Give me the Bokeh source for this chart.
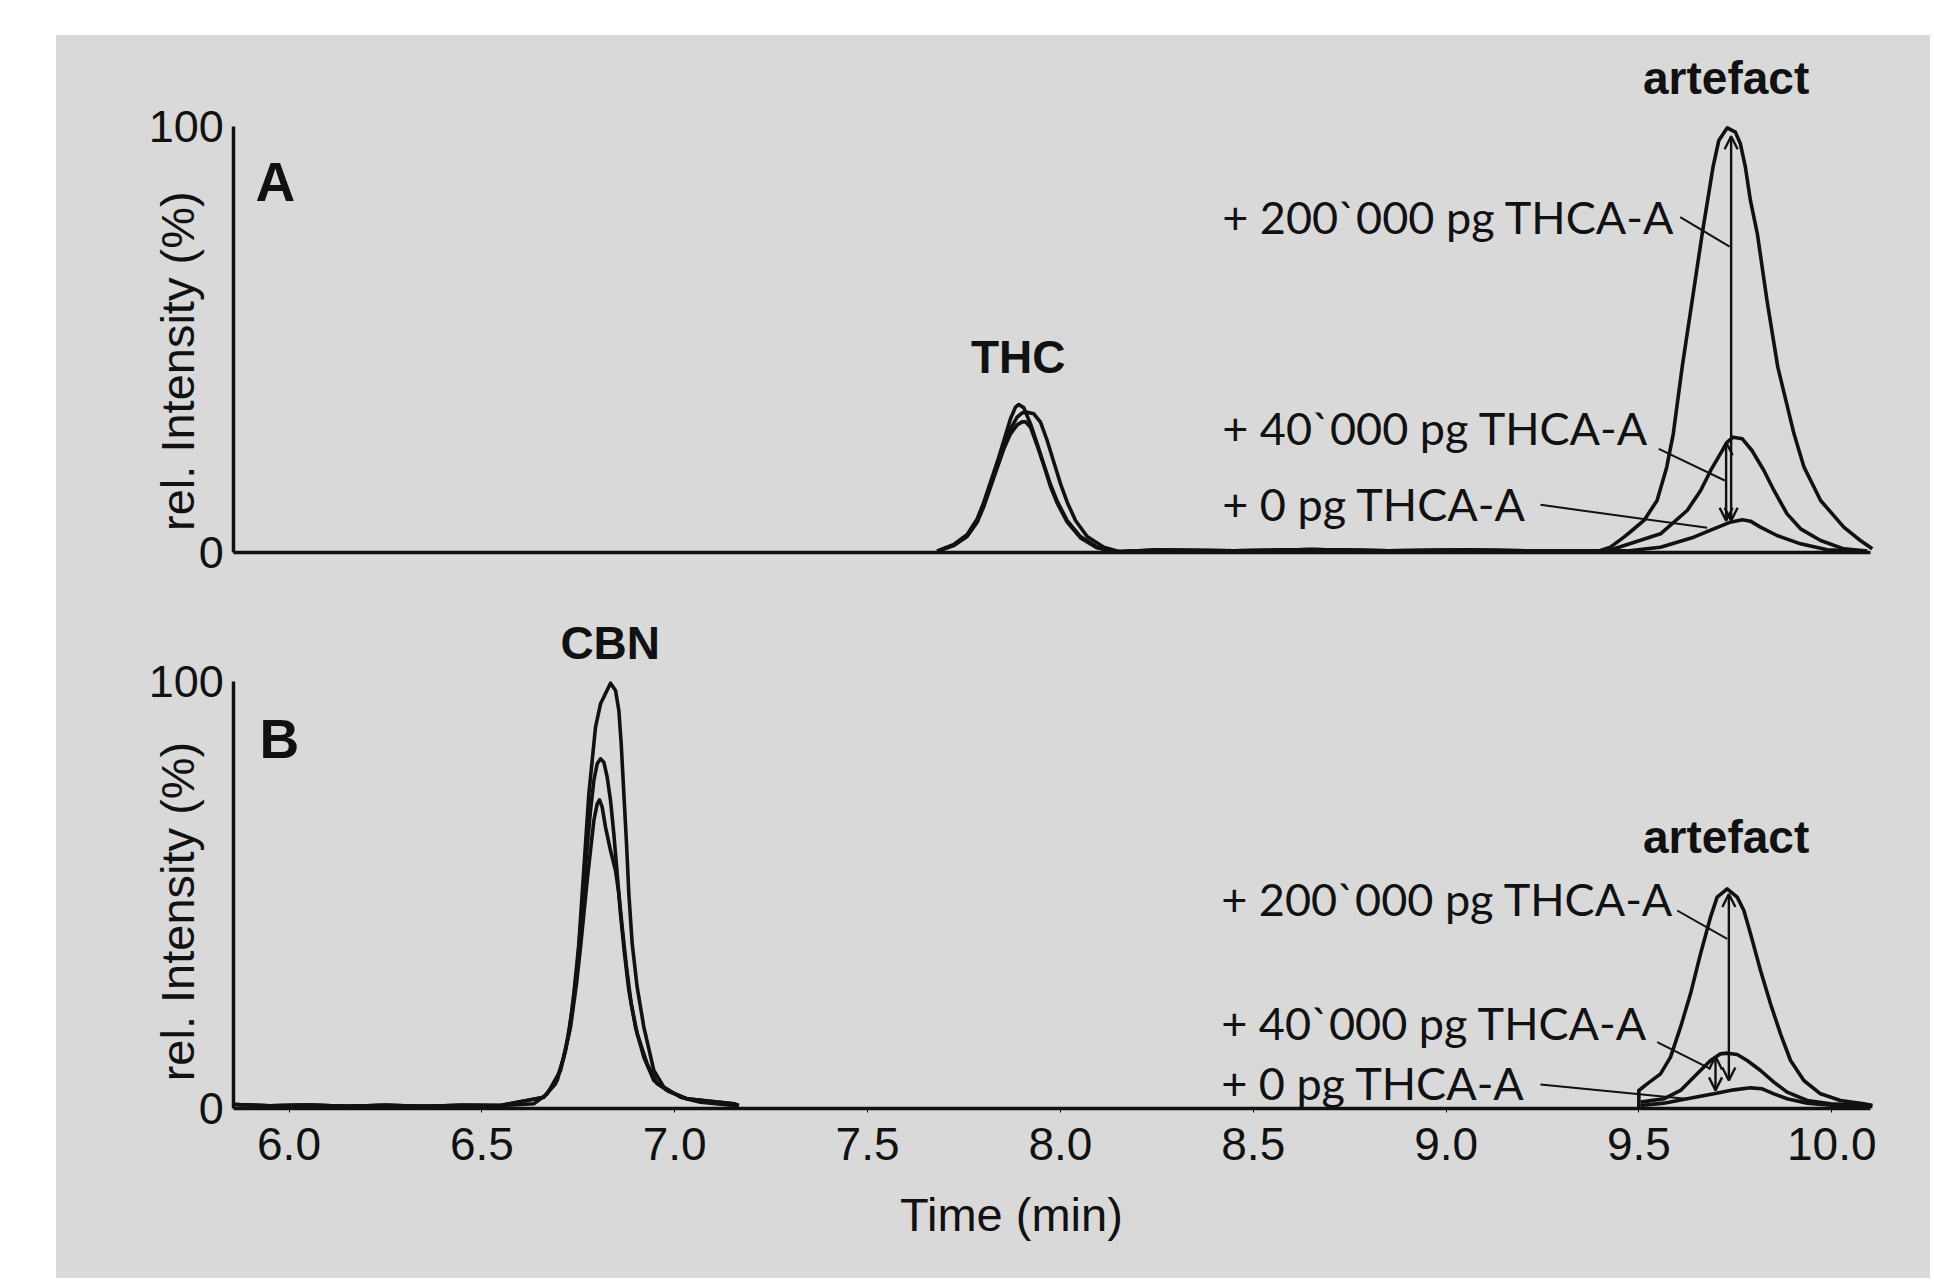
from bokeh.plotting import figure
from bokeh.models import Label, Arrow, OpenHead, FixedTicker, Spacer, Range1d
from bokeh.layouts import column, row
from bokeh.embed import file_html
from bokeh.resources import INLINE

# ---------------- data (retention time in min, relative intensity in %) ----------------
# Panel A - THC window, three injections
thcA_x_0 = [7.6805, 7.7237, 7.7583, 7.7842, 7.8015, 7.8188, 7.8361, 7.8534, 7.8706, 7.8836, 7.8922,
            7.9052, 7.9225, 7.9398, 7.9571, 7.9743, 7.9916, 8.0176, 8.0521, 8.0953, 8.1386]
thcA_y_0 = [0.24, 1.81, 4.15, 7.83, 11.75, 16.45, 21.15, 26.24, 31.33, 34.07, 34.69,
            33.91, 30.15, 25.45, 20.6, 15.9, 11.98, 7.44, 3.68, 1.18, 0.08]
thcA_x_40 = [7.6805, 7.7237, 7.7583, 7.7842, 7.8015, 7.8188, 7.8361, 7.8534, 7.8706, 7.8879, 7.9009,
             7.9139, 7.9311, 7.9484, 7.9657, 7.9830, 8.0003, 8.0176, 8.0392, 8.0694, 8.1126, 8.1558]
thcA_y_40 = [0.24, 1.65, 3.84, 7.44, 11.2, 15.67, 20.36, 25.06, 28.98, 31.72, 32.73,
             32.89, 32.5, 30.54, 26.24, 21.15, 16.06, 11.75, 7.44, 3.68, 1.18, 0.08]
thcA_x_200 = [7.6805, 7.7237, 7.7583, 7.7842, 7.8015, 7.8188, 7.8361, 7.8534, 7.8706, 7.8879, 7.9009,
              7.9095, 7.9225, 7.9398, 7.9571, 7.9743, 7.9916, 8.0176, 8.0521, 8.0953, 8.1386]
thcA_y_200 = [0.24, 1.57, 3.68, 7.05, 10.73, 15.27, 19.8, 24.28, 27.8, 29.92, 30.62,
              30.62, 29.37, 25.06, 20.36, 15.43, 11.51, 7.05, 3.37, 1.02, 0.08]
# Panel A - baseline between peaks
baseA_x = [8.25, 8.45, 8.65, 8.85, 9.05, 9.25]
baseA_y = [0.5, 0.3, 0.6, 0.3, 0.5, 0.3]
# Panel A - artefact window
artA_x_200 = [9.400, 9.426, 9.461, 9.482, 9.513, 9.547, 9.572, 9.589, 9.612, 9.638, 9.664, 9.692, 9.707,
              9.729, 9.750, 9.763, 9.776, 9.789, 9.807, 9.832, 9.860, 9.902, 9.928, 9.971, 10.031,
              10.074, 10.105]
artA_y_200 = [0.40, 1.18, 3.53, 5.1, 7.45, 12.15, 19.98, 27.8, 43.47, 59.13, 74.79, 90.45, 96.71,
              99.69, 98.67, 95.93, 90.45, 82.62, 74.79, 59.13, 43.47, 27.8, 19.98, 12.15, 5.88,
              2.75, 0.79]
artA_x_40 = [9.418, 9.556, 9.625, 9.660, 9.686, 9.711, 9.729, 9.744, 9.768, 9.793, 9.824, 9.850,
             9.884, 9.919, 9.971, 10.031, 10.092]
artA_y_40 = [0.3, 4.32, 9.8, 14.5, 19.2, 23.1, 25.85, 27.02, 26.63, 23.89, 19.2, 14.5,
             9.0, 5.49, 2.75, 0.79, 0.3]
artA_x_0 = [9.469, 9.556, 9.642, 9.694, 9.737, 9.768, 9.789, 9.815, 9.858, 9.919, 9.988, 10.074]
artA_y_0 = [0.3, 1.18, 3.53, 5.49, 7.06, 7.6, 7.29, 5.88, 3.92, 1.96, 0.55, 0.2]

# Panel B - CBN window (baseline + peak)
baseB_x = [5.86, 5.95, 6.05, 6.15, 6.25, 6.35, 6.45]
baseB_y = [1.0, 0.7, 0.9, 0.6, 0.8, 0.6, 0.8]
cbnB_x_1 = [6.5484, 6.6348, 6.6694, 6.7040, 6.7256, 6.7385, 6.7515, 6.7601, 6.7688, 6.7774, 6.7861,
            6.7947, 6.8077, 6.8336, 6.8466, 6.8552, 6.8613, 6.8682, 6.8751, 6.8811, 6.8898, 6.9027,
            6.9200, 6.9459, 6.9719, 7.0151, 7.0669, 7.1534, 7.1663]
cbnB_y_1 = [0.78, 1.17, 3.5, 8.97, 17.55, 26.93, 38.64, 50.35, 62.06, 73.76, 81.57,
            89.38, 94.84, 99.68, 97.96, 93.28, 85.47, 73.76, 62.06, 50.35, 38.64, 28.49,
            19.12, 8.97, 5.07, 2.72, 1.56, 0.78, 0.78]
cbnB_x_2 = [6.5484, 6.6607, 6.6953, 6.7169, 6.7342, 6.7472, 6.7558, 6.7645, 6.7731, 6.7817, 6.7904,
            6.7990, 6.8077, 6.8163, 6.8250, 6.8336, 6.8422, 6.8509, 6.8595, 6.8699, 6.8811, 6.8984,
            6.9200, 6.9459, 6.9805, 7.0324, 7.1534, 7.1663]
cbnB_y_2 = [0.78, 2.72, 6.63, 13.66, 23.02, 33.17, 42.54, 51.91, 61.27, 69.86, 76.89,
            80.79, 81.96, 81.18, 77.67, 72.2, 64.4, 55.03, 45.66, 36.29, 27.71, 19.12,
            12.09, 6.63, 4.29, 2.33, 1.17, 0.78]
cbnB_x_3 = [6.5484, 6.6607, 6.6910, 6.7126, 6.7299, 6.7454, 6.7558, 6.7645, 6.7731, 6.7817, 6.7904,
            6.7990, 6.8051, 6.8120, 6.8206, 6.8336, 6.8466, 6.8552, 6.8638, 6.8751, 6.8872, 6.9027,
            6.9287, 6.9546, 6.9891, 7.0324, 7.1534, 7.1663]
cbnB_y_3 = [0.78, 2.72, 5.85, 12.09, 19.12, 29.27, 37.85, 45.66, 53.47, 60.49, 67.52,
            71.42, 72.36, 70.64, 65.96, 60.49, 55.81, 50.35, 42.54, 33.17, 24.58, 17.55,
            10.53, 5.85, 3.9, 2.33, 1.17, 0.78]
# Panel B - artefact window
artB_x_200 = [9.4997, 9.4997, 9.5213, 9.5559, 9.5818, 9.6078, 9.6337, 9.6596, 9.6855, 9.7028, 9.7288,
              9.7547, 9.7720, 9.7893, 9.8152, 9.8411, 9.8670, 9.8930, 9.9275, 9.9707, 10.0226,
              10.0831, 10.105]
artB_y_200 = [0.39, 4.29, 5.85, 8.19, 12.09, 19.12, 26.92, 36.29, 44.88, 49.56, 51.51,
              49.56, 46.44, 40.98, 32.39, 24.58, 17.56, 11.31, 6.63, 3.51, 1.95,
              1.17, 0.78]
artB_x_40 = [9.5041, 9.5646, 9.6078, 9.6510, 9.6855, 9.7115, 9.7288, 9.7547, 9.7806, 9.8152, 9.8498,
             9.8843, 9.9362, 9.9967, 10.105]
artB_y_40 = [1.56, 2.34, 4.29, 8.19, 11.31, 12.87, 13.03, 12.72, 11.31, 8.97, 6.24,
             3.9, 1.95, 1.17, 0.78]
artB_x_0 = [9.5041, 9.5646, 9.6251, 9.6942, 9.7460, 9.7893, 9.8195, 9.8498, 9.8843, 9.9362, 10.0053,
            10.105]
artB_y_0 = [0.78, 1.32, 2.34, 3.51, 4.44, 4.91, 4.68, 3.51, 2.34, 1.32, 0.78, 0.55]

x_ticks = [6.0, 6.5, 7.0, 7.5, 8.0, 8.5, 9.0, 9.5, 10.0]
x_tick_labels = ["6.0", "6.5", "7.0", "7.5", "8.0", "8.5", "9.0", "9.5", "10.0"]
y_ticks = [0, 100]
y_tick_labels = ["0", "100"]
spike_labels = ["+ 200`000 pg THCA-A", "+ 40`000 pg THCA-A", "+ 0 pg THCA-A"]

# ---------------- styling / layout ----------------
BG = "#d9d9d9"
INK = "#111111"
PX_PER_MIN = 385.7          # horizontal scale (px per minute)
X_AXIS_START = 5.857        # where the time axis begins
X_AXIS_END = 10.1
FIG_W = 1874
X_LEFT = 6.0 - 232.5 / PX_PER_MIN      # data value at the figure's left edge
TICK_FONT = "Liberation Sans"
BOLD_FONT = "Liberation Sans"
NOTE_FONT = "Lato"


def make_panel(fig_h, px_per_pct, zero_from_top, show_x_labels):
    y_top = zero_from_top / px_per_pct
    y_bot = -(fig_h - zero_from_top) / px_per_pct
    p = figure(frame_width=FIG_W, frame_height=fig_h,
               x_range=Range1d(X_LEFT, X_LEFT + FIG_W / PX_PER_MIN),
               y_range=Range1d(y_bot, y_top),
               output_backend="svg", toolbar_location=None,
               min_border_left=0, min_border_right=0,
               min_border_top=0, min_border_bottom=0)
    p.background_fill_color = BG
    p.border_fill_color = BG
    p.outline_line_color = None
    p.grid.visible = False
    # y axis
    ya = p.yaxis[0]
    ya.fixed_location = X_AXIS_START
    ya.ticker = FixedTicker(ticks=y_ticks)
    ya.major_label_overrides = {t: l for t, l in zip(y_ticks, y_tick_labels)}
    ya.bounds = (0, 100)
    ya.axis_line_width = 3.5
    ya.axis_line_color = INK
    ya.major_tick_out = 0
    ya.major_tick_in = 0
    ya.minor_tick_out = 0
    ya.minor_tick_in = 0
    ya.major_label_standoff = 10
    ya.major_label_text_font = TICK_FONT
    ya.major_label_text_font_size = "45px"
    ya.major_label_text_color = INK
    # x axis
    xa = p.xaxis[0]
    xa.fixed_location = 0
    xa.bounds = (X_AXIS_START, X_AXIS_END)
    xa.axis_line_width = 3.5
    xa.axis_line_color = INK
    xa.minor_tick_out = 0
    xa.minor_tick_in = 0
    if show_x_labels:
        xa.ticker = FixedTicker(ticks=x_ticks)
        xa.major_label_overrides = {t: l for t, l in zip(x_ticks, x_tick_labels)}
        xa.major_tick_out = 4
        xa.major_tick_in = 0
        xa.major_tick_line_width = 1
        xa.major_label_standoff = 15
        xa.major_label_text_font = TICK_FONT
        xa.major_label_text_font_size = "46px"
        xa.major_label_text_color = INK
    else:
        xa.ticker = FixedTicker(ticks=[])
        xa.major_tick_out = 0
        xa.major_tick_in = 0
    return p


def trace(p, xs, ys):
    p.line(xs, ys, line_color=INK, line_width=3.6, line_join="round")


def note(p, ppp, x, y, text, font, size, bold=False, align="left", rotated=False):
    # text is placed by its baseline; small correction (px) for the renderer's baseline offset
    lift = 16 if font == NOTE_FONT else 18
    if rotated:
        x = x - 14.5 / PX_PER_MIN
        angle = 1.5708
    else:
        y = y + lift / ppp
        angle = 0.0
    p.add_layout(Label(x=x, y=y, text=text, text_font=font, text_font_size=size,
                       text_font_style="bold" if bold else "normal", text_color=INK,
                       text_align=align, text_baseline="alphabetic", angle=angle))


def dbl_arrow(p, x, y0, y1):
    p.add_layout(Arrow(start=OpenHead(size=13, line_width=2.4, line_color=INK),
                       end=OpenHead(size=13, line_width=2.4, line_color=INK),
                       x_start=x, y_start=y0, x_end=x, y_end=y1,
                       line_width=2.4, line_color=INK))


# ---------- Panel A ----------
PPA = 4.257
pA = make_panel(fig_h=565, px_per_pct=PPA, zero_from_top=516.7, show_x_labels=False)
trace(pA, thcA_x_0 + baseA_x + artA_x_0, thcA_y_0 + baseA_y + artA_y_0)
trace(pA, thcA_x_40 + baseA_x + artA_x_40, thcA_y_40 + baseA_y + artA_y_40)
trace(pA, thcA_x_200 + baseA_x + artA_x_200, thcA_y_200 + baseA_y + artA_y_200)

dbl_arrow(pA, 9.739, max(artA_y_0) - 0.2, max(artA_y_200) - 2.0)
dbl_arrow(pA, 9.726, max(artA_y_0) - 0.2, max(artA_y_40) - 1.2)
pA.segment(x0=[9.607, 9.5514, 9.2447], y0=[78.7, 24.29, 11.13],
           x1=[9.735, 9.7225, 9.677], y1=[71.8, 16.84, 5.73], line_color=INK, line_width=2.0)

note(pA, PPA, 5.913, 82.8, "A", BOLD_FONT, "55px", bold=True)
note(pA, PPA, 7.8906, 41.7, "THC", BOLD_FONT, "46px", bold=True, align="center")
note(pA, PPA, 9.726, 107.2, "artefact", BOLD_FONT, "46px", bold=True, align="center")
for lab, yb in zip(spike_labels, [74.94, 25.3, 7.68]):
    note(pA, PPA, 8.4195, yb, lab, NOTE_FONT, "45px")
note(pA, PPA, 5.7498, 44.87, "rel. Intensity (%)", TICK_FONT, "47px", align="center", rotated=True)

# ---------- Panel B ----------
PPB = 4.27
pB = make_panel(fig_h=678, px_per_pct=PPB, zero_from_top=508.3, show_x_labels=True)
for cx, cy in [(cbnB_x_1, cbnB_y_1), (cbnB_x_2, cbnB_y_2), (cbnB_x_3, cbnB_y_3)]:
    trace(pB, baseB_x + cx, baseB_y + cy)
trace(pB, artB_x_200, artB_y_200)
trace(pB, artB_x_40, artB_y_40)
trace(pB, artB_x_0, artB_y_0)

dbl_arrow(pB, 9.7331, max(artB_y_0) + 1.7, max(artB_y_200) - 1.2)
dbl_arrow(pB, 9.6985, max(artB_y_0) - 0.6, max(artB_y_40) - 0.8)
pB.segment(x0=[9.5991, 9.5473, 9.2447], y0=[46.44, 15.6, 5.69],
           x1=[9.7288, 9.6855, 9.6207], y1=[39.8, 9.36, 2.34], line_color=INK, line_width=2.0)

note(pB, PPB, 5.9235, 82.5, "B", BOLD_FONT, "55px", bold=True)
note(pB, PPB, 6.8328, 104.8, "CBN", BOLD_FONT, "46px", bold=True, align="center")
note(pB, PPB, 9.726, 59.36, "artefact", BOLD_FONT, "46px", bold=True, align="center")
for lab, yb in zip(spike_labels, [45.27, 16.44, 2.34]):
    note(pB, PPB, 8.4168, yb, lab, NOTE_FONT, "45px")
note(pB, PPB, 5.7498, 46.2, "rel. Intensity (%)", TICK_FONT, "47px", align="center", rotated=True)
note(pB, PPB, 7.873, -28.9, "Time (min)", TICK_FONT, "47px", align="center")

panels = column(pA, pB, styles={"background-color": BG})
layout = row(Spacer(width=56), column(Spacer(height=35), panels))

with open("out.html", "w") as f:
    f.write(file_html(layout, INLINE))
